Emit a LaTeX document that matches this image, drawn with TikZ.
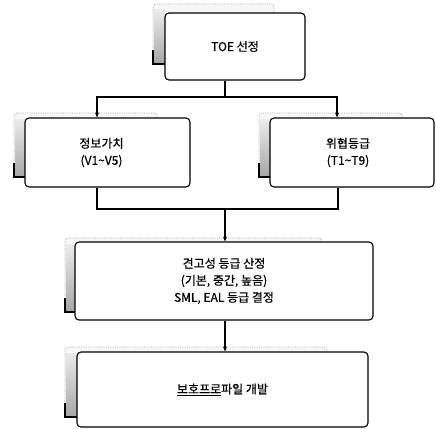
\documentclass[tikz,border=0pt]{standalone}
\usepackage{fontspec}
\setmainfont{Noto Sans CJK KR}[FakeBold=0.6]
\usetikzlibrary{arrows.meta}
\tikzset{
  x=1pt,y=-1pt,
  box/.style={draw=black,line width=1.1pt,rounded corners=4pt,fill=white,align=center,inner sep=0pt,font=\fontsize{12}{17}\selectfont},
  conn/.style={line width=1.1pt},
  arr/.style={conn,-{Stealth[length=5pt,width=4pt]}},
  shadowline/.style={draw=gray!65,line width=0.8pt,densely dotted},
}
\newcommand\shbox[4]{%
  \fill[gray!6,rounded corners=3pt] (#1,#2) rectangle (#3,#4);
  \shade[top color=gray!15,bottom color=gray!70] (#1+1,#2+6) rectangle (#1+12,#4);
  \draw[shadowline,rounded corners=3pt] (#1,#4) -- (#1,#2) -- (#3,#2) -- (#3,#2+10);
  \draw[line width=1.3pt] (#1,#4-14) -- (#1,#4) -- (#1+12,#4);
}
\begin{document}
\begin{tikzpicture}
\useasboundingbox (0,0) rectangle (436,428);
% shadows
\shbox{153}{4}{274}{64}
\shbox{14}{113}{157}{177}
\shbox{259}{113}{402}{177}
\shbox{65}{238}{322}{312}
\shbox{65}{347}{327}{417}
% boxes
\node[box,minimum width=140pt,minimum height=67pt] (toe) at (235,46.5) {TOE 선정};
\node[box,minimum width=165pt,minimum height=69pt] (val) at (107.5,152.5) {\hspace*{-12pt}정보가치\\\hspace*{-12pt}(V1\textasciitilde V5)};
\node[box,minimum width=164pt,minimum height=69pt] (thr) at (352,152.5) {\hspace*{-8pt}위협등급\\\hspace*{-8pt}(T1\textasciitilde T9)};
\node[box,minimum width=298pt,minimum height=78pt] (rob) at (224,281) {견고성 등급 산정\\(기본, 중간, 높음)\\SML, EAL 등급 결정};
\node[box,minimum width=291pt,minimum height=75pt] (pp) at (222.5,389.5) {\underline{보호프로}파일 개발};
% junctions
\coordinate (j1) at (225,97);
\coordinate (aL) at (97,97);
\coordinate (aR) at (337,97);
\coordinate (j2) at (225,209);
\coordinate (bL) at (97,209);
\coordinate (bR) at (338,209);
% connectors
\draw[conn] (toe.south -| j1) -- (j1);
\draw[arr] (j1) -- (aL) -- (val.north -| aL);
\draw[arr] (j1) -- (aR) -- (thr.north -| aR);
\draw[conn] (val.south -| bL) -- (bL) -- (bR) -- (thr.south -| bR);
\draw[arr] (j2) -- (rob.north -| j2);
\draw[arr] (rob.south -| j2) -- (pp.north -| j2);
\end{tikzpicture}
\end{document}
